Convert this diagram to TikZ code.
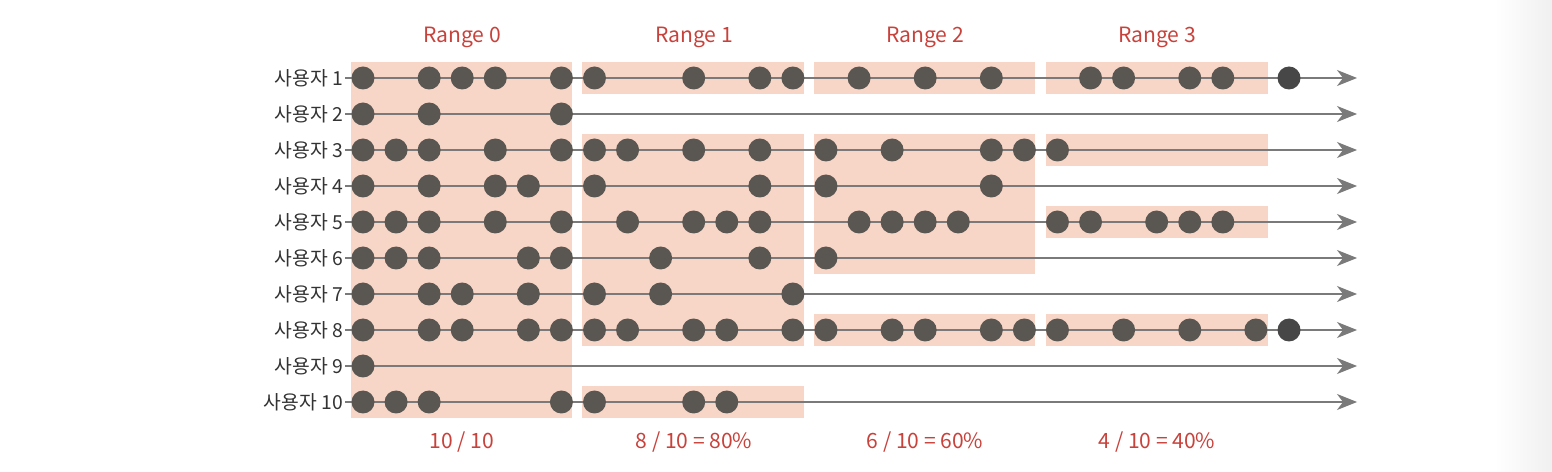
\documentclass[tikz,border=0pt]{standalone}
\usepackage{fontspec}
\setmainfont{Noto Sans CJK KR}
\usepackage{xcolor}
\usepackage{tikz}
\usetikzlibrary{arrows.meta}
\definecolor{ink}{HTML}{333333}
\definecolor{cLine}{HTML}{7A7A7A}
\definecolor{cDot}{HTML}{5A5752}
\definecolor{cDotEnd}{HTML}{474747}
\definecolor{cBand}{HTML}{F8D6C7}
\definecolor{cRed}{HTML}{C8423C}
\tikzset{
  usr/.style  = {anchor=east, inner sep=1pt, font=\fontsize{11}{13}\selectfont, text=ink},
  rng/.style  = {font=\fontsize{12}{14}\selectfont, text=cRed},
  tl/.style   = {draw=cLine, line width=0.7pt, -{Stealth[length=0.4cm,width=0.32cm,inset=0.12cm]}},
  ev/.style   = {circle, fill=cDot, inner sep=0pt, minimum size=0.46cm},
  evx/.style  = {ev, fill=cDotEnd},
  band/.style = {fill=cBand},
}

\begin{document}
\begin{tikzpicture}[x=0.02cm, y=-0.02cm]
  \useasboundingbox (0,0) rectangle (1552,472);
  \shade[left color=white, right color=gray!12] (1495,0) rectangle (1552,472);

  % ---------------- ranges ----------------
  \fill[band] (351,62) rectangle (572,418);
  \fill[band] (582,62) rectangle (804,94);
  \fill[band] (582,134) rectangle (804,346);
  \fill[band] (582,386) rectangle (804,418);
  \fill[band] (814,62) rectangle (1035,94);
  \fill[band] (814,134) rectangle (1035,274);
  \fill[band] (814,314) rectangle (1035,346);
  \fill[band] (1046,62) rectangle (1268,94);
  \fill[band] (1046,134) rectangle (1268,166);
  \fill[band] (1046,206) rectangle (1268,238);
  \fill[band] (1046,314) rectangle (1268,346);

  \node[rng] (t0) at (462,37) {Range 0};
  \node[rng] (t1) at (694,37) {Range 1};
  \node[rng] (t2) at (925,37) {Range 2};
  \node[rng] (t3) at (1157,37) {Range 3};

  % ---------------- users ----------------
  \foreach \r in {1,...,10} {
    \node[usr] (u\r) at (345,{78+36*(\r-1)}) {사용자 \r};
    \coordinate (e\r) at (1357,{78+36*(\r-1)});
    \draw[tl] (u\r.east) -- (e\r);
  }

  % ---------------- events ----------------
  \foreach \r/\cols in {1/{0,2,3,4,6,7,10,12,13,15,17,19,22,23,25,26},
                        2/{0,2,6},
                        3/{0,1,2,4,6,7,8,10,12,14,16,19,20,21},
                        4/{0,2,4,5,7,12,14,19},
                        5/{0,1,2,4,6,8,10,11,12,15,16,17,18,21,22,24,25,26},
                        6/{0,1,2,5,6,9,12,14},
                        7/{0,2,3,5,7,9,13},
                        8/{0,2,3,5,6,7,8,10,11,13,14,16,17,19,20,21,23,25,27},
                        9/{0},
                        10/{0,1,2,6,7,10,11}} {
    \foreach \c in \cols
      \node[ev] (d\r-\c) at ({363+33.07*\c},{78+36*(\r-1)}) {};
  }
  \node[evx] (d1-28) at (1289,78) {};
  \node[evx] (d8-28) at (1289,330) {};

  % ---------------- ratios ----------------
  \node[rng] (s0) at (462,442) {10 / 10};
  \node[rng] (s1) at (694,442) {8 / 10 = 80\%};
  \node[rng] (s2) at (925,442) {6 / 10 = 60\%};
  \node[rng] (s3) at (1157,442) {4 / 10 = 40\%};
\end{tikzpicture}
\end{document}
